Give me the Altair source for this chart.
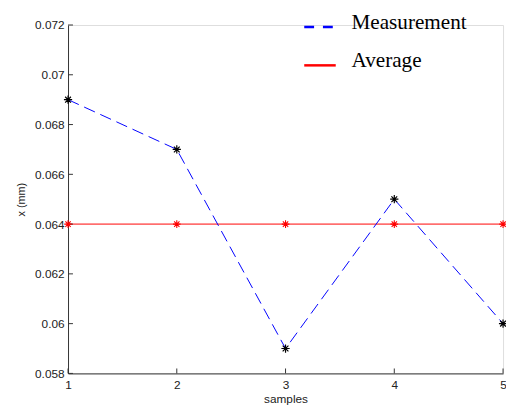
import altair as alt
import pandas as pd

samples = [1, 2, 3, 4, 5]
measurement = [0.069, 0.067, 0.059, 0.065, 0.060]
average = [0.064, 0.064, 0.064, 0.064, 0.064]
y_ticks = [0.058, 0.060, 0.062, 0.064, 0.066, 0.068, 0.070, 0.072]
x_ticks = [1, 2, 3, 4, 5]
legend_labels = ["Measurement", "Average"]

df = pd.DataFrame({"samples": samples, "measurement": measurement, "average": average})
yt = pd.DataFrame({"v": y_ticks})
xt = pd.DataFrame({"v": x_ticks})

W, H = 442, 354
STAR = "M-1,0L1,0M0,-1L0,1M-0.7,-0.7L0.7,0.7M-0.7,0.7L0.7,-0.7"
FONT = "Liberation Sans"

xs = alt.Scale(domain=[1, 5], nice=False, zero=False)
ys = alt.Scale(domain=[0.058, 0.072], nice=False, zero=False)

xaxis = alt.Axis(values=x_ticks, format="d", title="samples", grid=False, ticks=False,
                 domainColor="#333", labelColor="#222", labelFont=FONT, labelFontSize=12,
                 titleFont=FONT, titleFontSize=12, titleFontWeight="normal", titleColor="#222",
                 labelPadding=6, titlePadding=4, labelFlush=False)
yaxis = alt.Axis(values=y_ticks, format="~g", title="x (mm)", grid=False, ticks=False,
                 domainColor="#333", labelColor="#222", labelFont=FONT, labelFontSize=12,
                 titleFont=FONT, titleFontSize=11, titleFontWeight="normal", titleColor="#222",
                 labelPadding=4, titlePadding=8)

base = alt.Chart(df)

meas_line = base.mark_line(color="#0000ff", strokeWidth=1, strokeDash=[12, 6]).encode(
    x=alt.X("samples:Q", scale=xs, axis=xaxis),
    y=alt.Y("measurement:Q", scale=ys, axis=yaxis),
)
avg_line = base.mark_line(color="#ff0000", strokeWidth=1).encode(
    x=alt.X("samples:Q", scale=xs),
    y=alt.Y("average:Q", scale=ys),
)
meas_pts = base.mark_point(shape=STAR, size=70, color="black", strokeWidth=1.2, filled=False, opacity=1).encode(
    x=alt.X("samples:Q", scale=xs),
    y=alt.Y("measurement:Q", scale=ys),
)
avg_pts = base.mark_point(shape=STAR, size=60, color="#ff0000", strokeWidth=1.1, filled=False, opacity=1).encode(
    x=alt.X("samples:Q", scale=xs),
    y=alt.Y("average:Q", scale=ys),
)

ytick_marks = alt.Chart(yt).mark_rule(color="#333").encode(
    y=alt.Y("v:Q", scale=ys), x=alt.value(0), x2=alt.value(5)
)
xtick_marks = alt.Chart(xt).mark_rule(color="#333").encode(
    x=alt.X("v:Q", scale=xs), y=alt.value(H), y2=alt.value(H - 5)
)

leg = pd.DataFrame({"label": legend_labels})
leg_meas_line = alt.Chart(leg.iloc[[0]]).mark_rule(color="#0000ff", strokeWidth=2.5, strokeDash=[10, 9]).encode(
    x=alt.value(240), x2=alt.value(269), y=alt.value(2)
)
leg_avg_line = alt.Chart(leg.iloc[[1]]).mark_rule(color="#ff0000", strokeWidth=2.5).encode(
    x=alt.value(240), x2=alt.value(272), y=alt.value(41)
)
leg_meas_text = alt.Chart(leg.iloc[[0]]).mark_text(
    font="Liberation Serif", fontSize=21.5, align="left", baseline="alphabetic", color="black"
).encode(text="label:N", x=alt.value(288), y=alt.value(4))
leg_avg_text = alt.Chart(leg.iloc[[1]]).mark_text(
    font="Liberation Serif", fontSize=21.5, align="left", baseline="alphabetic", color="black"
).encode(text="label:N", x=alt.value(288), y=alt.value(43))

chart = alt.layer(
    avg_line, meas_line, ytick_marks, xtick_marks, avg_pts, meas_pts,
    leg_meas_line, leg_avg_line, leg_meas_text, leg_avg_text,
).properties(
    width=W, height=H,
    autosize=alt.AutoSizeParams(type="none"),
    padding={"left": 61, "top": 14, "right": 3, "bottom": 40},
).configure_view(stroke=None).configure(background="white")

chart.save("out.html", embed_options={"renderer": "svg", "actions": False})
